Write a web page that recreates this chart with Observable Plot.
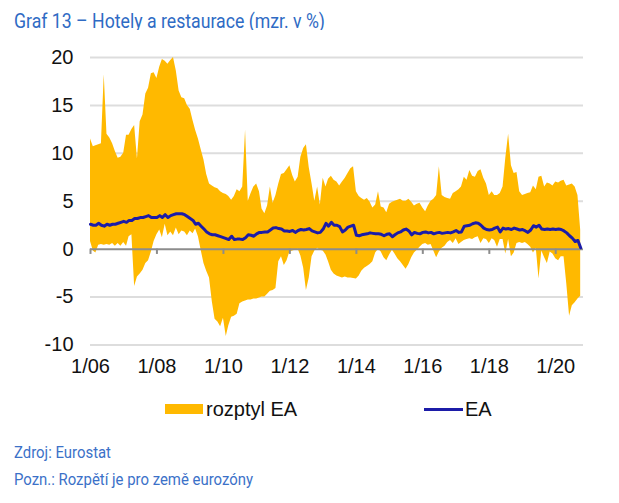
<!DOCTYPE html>
<html><head><meta charset="utf-8">
<script src="https://cdn.jsdelivr.net/npm/d3@7"></script>
<script src="https://cdn.jsdelivr.net/npm/@observablehq/plot@0.6"></script>
<style>
body{margin:0;background:#fff;width:619px;height:503px;position:relative;overflow:hidden;font-family:"Liberation Sans",Arial,sans-serif}
.t{position:absolute;white-space:nowrap;transform-origin:0 50%;line-height:1}
#title{left:14px;top:11px;font-family:Roboto;font-size:20px;color:#2f6bc4}
#src{left:14px;top:445px;font-family:Roboto;font-size:16px;color:#3b71c8}
#note{left:14px;top:472px;font-family:Roboto;font-size:16px;color:#3b71c8}
#chart{position:absolute;left:0;top:30px}
.lg{position:absolute;font-size:20px;color:#111;line-height:1;top:399px}
</style></head><body>
<div id="title" class="t">Graf 13 – Hotely a restaurace (mzr. v %)</div>
<div id="chart"></div>
<div style="position:absolute;left:165px;top:404px;width:38px;height:10px;background:#FFB900"></div>
<div class="lg" style="left:206px">rozptyl EA</div>
<div style="position:absolute;left:424px;top:408px;width:39px;height:3px;background:#1c1ca8"></div>
<div class="lg" style="left:465px">EA</div>
<div id="src" class="t">Zdroj: Eurostat</div>
<div id="note" class="t">Pozn.: Rozpětí je pro země eurozóny</div>
<script>
// monthly data, Jan 2006 – Oct 2020
const startYear = 2006;
const spreadMax = [
11.5,10.7,10.8,10.9,11.0,18.2,12.0,11.6,11.0,10.2,9.5,9.6,10.0,11.9,11.9,12.5,12.9,9.4,13.3,14.0,
16.2,16.8,18.3,18.4,17.8,19.0,19.8,19.6,19.3,19.7,20.0,18.6,16.5,15.8,15.7,15.0,14.6,13.4,12.4,11.5,
10.4,9.3,7.8,6.8,6.6,
6.4,6.3,6.0,5.8,5.7,5.5,5.1,5.5,6.2,6.0,6.5,12.4,5.0,5.8,6.5,6.8,6.0,4.2,3.7,4.5,
6.5,4.8,5.6,6.8,7.8,7.9,8.3,8.7,7.7,7.0,7.5,9.6,10.5,10.9,8.5,6.8,5.0,6.5,4.6,7.4,
6.5,7.3,7.6,7.2,7.0,
6.6,7.0,7.4,7.9,8.4,8.6,6.0,5.5,5.3,5.1,
5.3,4.9,4.3,4.6,6.0,4.4,4.3,3.8,4.7,4.9,
5.0,5.1,5.2,5.0,5.0,5.2,4.9,4.5,4.7,4.8,
4.3,3.9,4.5,5.0,5.2,5.6,8.6,5.6,5.4,5.3,
5.2,5.8,6.0,6.2,6.5,7.5,7.2,8.2,7.6,7.5,
8.1,8.3,7.4,6.8,5.6,6.0,5.6,5.6,5.8,6.5,
9.5,12.0,8.7,7.9,8.0,6.0,5.6,5.7,5.8,5.9,
6.6,6.2,7.5,7.6,6.5,6.9,6.8,6.6,7.0,6.9,
7.1,7.2,6.6,6.7,6.8,6.5,5.6,2.0];
const spreadMin = [
0.8,-0.2,-0.4,0.4,0.5,0.4,0.5,0.4,0.6,0.3,0.6,0.3,0.7,0.3,1.3,1.5,-3.9,-2.9,-2.6,-2.2,
-1.5,-1.2,-0.3,0.8,1.5,2.0,1.2,2.6,1.4,1.8,1.4,2.2,1.5,1.9,1.8,1.4,1.9,1.6,2.1,1.3,
-0.1,-1.5,-2.3,-3.0,-5.5,
-7.3,-7.6,-8.1,-7.2,-9.1,-8.0,-7.1,-7.0,-6.8,-5.7,-5.5,-5.4,-5.3,-5.3,-5.2,-5.2,-5.1,-5.0,-5.0,-4.7,
-4.4,-4.3,-4.1,-1.3,-0.8,-1.7,-1.2,-0.3,-0.2,-0.1,0.0,-0.7,-2.0,-4.3,-3.0,-0.8,-0.2,0.1,-0.1,-0.2,
-0.6,-1.3,-2.2,-2.6,-2.8,
-2.9,-3.0,-2.9,-3.0,-3.0,-3.05,-3.1,-2.8,-2.3,-2.0,
-1.8,-1.6,-1.3,-0.4,0.0,-0.3,-0.9,-1.2,-0.6,-0.1,
-0.5,-1.0,-1.3,-1.7,-2.1,-1.6,-0.9,-0.4,-0.1,0.2,
0.5,0.6,0.4,0.5,-0.2,-0.9,-0.3,0.1,0.3,0.7,
0.9,0.6,1.1,0.5,0.7,0.9,1.0,1.1,1.0,1.2,
1.3,0.6,1.1,1.0,0.6,1.1,0.9,0.2,1.0,1.0,
-0.5,1.0,-0.8,-0.4,0.6,0.7,0.6,0.7,0.5,0.2,
-0.4,0.1,-3.1,-0.2,-0.9,-1.5,-0.3,-0.5,-1.0,-1.2,
-0.8,-0.8,-3.6,-7.0,-5.9,-5.6,-5.2,-4.9];
const ea = [
2.6,2.5,2.5,2.7,2.5,2.4,2.6,2.5,2.6,2.6,2.7,2.8,2.9,2.8,3.0,3.0,3.2,3.2,3.3,3.3,
3.4,3.5,3.3,3.3,3.3,3.5,3.3,3.6,3.3,3.5,3.6,3.7,3.7,3.7,3.6,3.4,3.2,3.0,2.6,2.7,
2.4,2.1,1.8,1.6,1.5,
1.5,1.4,1.3,1.2,1.1,1.0,1.35,1.0,1.05,1.05,1.0,1.2,1.5,1.45,1.35,1.6,1.75,1.75,1.8,1.8,
2.0,2.2,2.25,2.15,2.1,1.9,1.9,1.85,1.95,1.75,1.95,2.05,2.0,2.05,2.15,1.9,1.8,1.7,1.75,2.1,
2.7,2.4,2.8,2.5,2.5,
2.35,1.8,2.0,2.3,2.4,2.5,1.45,1.4,1.5,1.55,
1.6,1.7,1.65,1.6,1.6,1.55,1.4,1.55,1.6,1.3,
1.5,1.7,1.8,2.0,2.1,1.9,1.5,1.75,1.65,1.6,
1.75,1.8,1.7,1.75,1.6,1.7,1.75,1.65,1.7,1.75,
1.7,1.8,1.95,1.75,1.8,2.4,2.45,2.5,2.65,2.75,
2.7,2.5,2.2,2.05,2.0,2.05,2.2,2.3,1.8,2.2,
2.1,2.15,2.05,2.2,2.1,2.0,2.05,1.9,1.75,2.0,
2.45,2.3,2.5,2.1,2.05,2.1,2.05,2.1,2.05,2.1,
2.05,1.9,1.7,1.4,1.15,0.8,0.9,0.15];
const yTicks = [-10, -5, 0, 5, 10, 15, 20];
const xTickYears = [2006, 2008, 2010, 2012, 2014, 2016, 2018, 2020];
const xTickLabels = ["1/06", "1/08", "1/10", "1/12", "1/14", "1/16", "1/18", "1/20"];

const rows = ea.map((v, i) => ({
  date: new Date(Date.UTC(startYear, i, 1)),
  lo: spreadMin[i], hi: spreadMax[i], ea: v
}));
const tickDates = xTickYears.map(y => new Date(Date.UTC(y, 0, 1)));

const chart = Plot.plot({
  width: 619, height: 360,
  marginLeft: 90, marginRight: 36, marginTop: 27, marginBottom: 45.5,
  x: {type: "utc", domain: [new Date(Date.UTC(2006, 0, 1)), new Date(Date.UTC(2020, 10, 1))]},
  y: {domain: [-10, 20]},
  style: {fontFamily: "'Liberation Sans', Arial, sans-serif", fontSize: "20px", color: "#111", background: "white", overflow: "visible"},
  marks: [
    Plot.ruleY(yTicks.filter(d => d !== 0), {stroke: "#dddddd", strokeWidth: 2}),
    Plot.areaY(rows, {x: "date", y1: "lo", y2: "hi", fill: "#FFB900"}),
    Plot.ruleY([0], {stroke: "#8c8c8c", strokeWidth: 2}),
    Plot.ruleX(tickDates, {y1: 0, y2: -0.55, stroke: "#8c8c8c", strokeWidth: 2}),
    Plot.lineY(rows, {x: "date", y: "ea", stroke: "#1c1ca8", strokeWidth: 3}),
    Plot.axisY({ticks: yTicks, tickSize: 0, tickPadding: 17, tickFormat: d => String(d)}),
    Plot.axisX({ticks: tickDates, tickSize: 0, tickPadding: 14, tickFormat: (d, i) => xTickLabels[i]})
  ]
});
document.getElementById("chart").appendChild(chart);

function fit(id, w) {
  const el = document.getElementById(id);
  const r = el.getBoundingClientRect().width;
  el.style.transform = `scaleX(${w / r})`;
}
fit("title", 311);
fit("src", 97);
fit("note", 239);
</script>
</body></html>
